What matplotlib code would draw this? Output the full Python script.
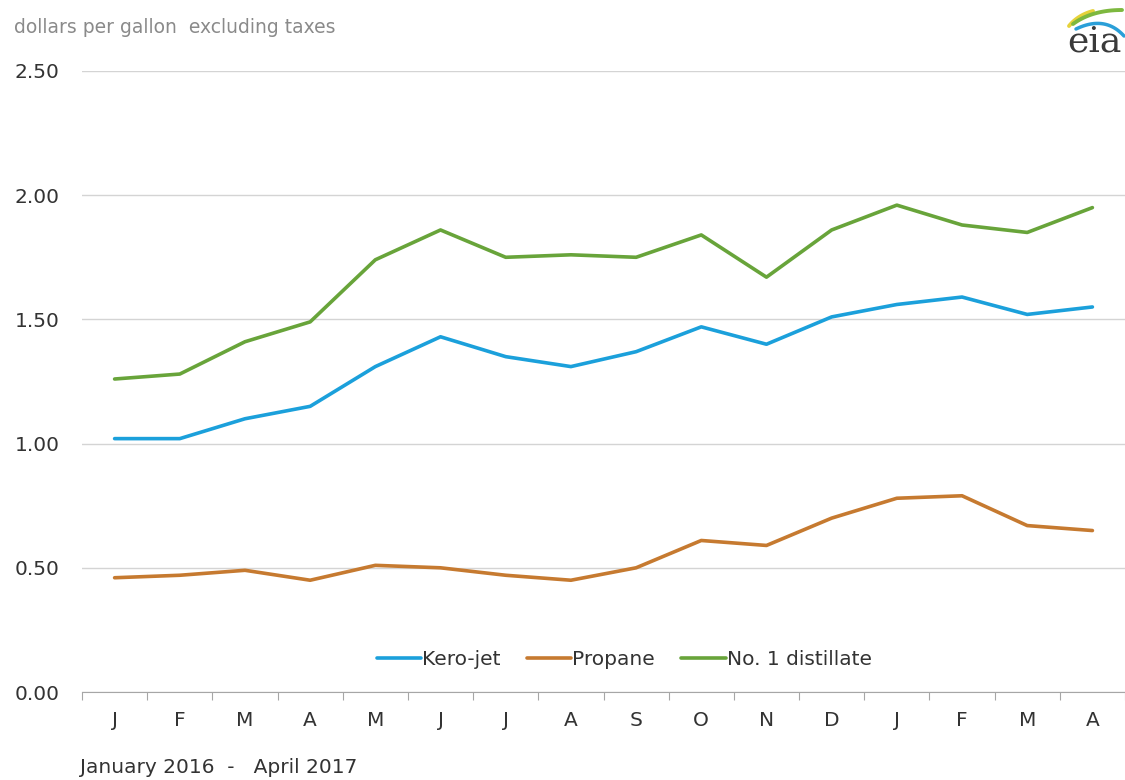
import numpy as np
import matplotlib.pyplot as plt

# =========================================================
# Data (dollars per gallon excluding taxes)
# =========================================================
months = ["J", "F", "M", "A", "M", "J", "J", "A", "S", "O", "N", "D", "J", "F", "M", "A"]
kero_jet = [1.02, 1.02, 1.10, 1.15, 1.31, 1.43, 1.35, 1.31, 1.37, 1.47, 1.40, 1.51, 1.56, 1.59, 1.52, 1.55]
propane = [0.46, 0.47, 0.49, 0.45, 0.51, 0.50, 0.47, 0.45, 0.50, 0.61, 0.59, 0.70, 0.78, 0.79, 0.67, 0.65]
distillate = [1.26, 1.28, 1.41, 1.49, 1.74, 1.86, 1.75, 1.76, 1.75, 1.84, 1.67, 1.86, 1.96, 1.88, 1.85, 1.95]
y_ticks = [0.0, 0.5, 1.0, 1.5, 2.0, 2.5]

BLUE = "#1ba0db"
ORANGE = "#c67a30"
GREEN = "#68a43a"
TEXT = "#333333"
FS = 14.5

plt.rcParams["font.family"] = "DejaVu Sans"

fig = plt.figure(figsize=(11.25, 7.8), dpi=100)
ax = fig.add_axes([0.0729, 0.1128, 0.9271, 0.7962])

x = np.arange(len(months))
ax.plot(x, kero_jet, color=BLUE, lw=2.6, label="Kero-jet", solid_capstyle="round")
ax.plot(x, propane, color=ORANGE, lw=2.6, label="Propane", solid_capstyle="round")
ax.plot(x, distillate, color=GREEN, lw=2.6, label="No. 1 distillate", solid_capstyle="round")

ax.set_xlim(-0.5, len(months) - 0.5)
ax.set_ylim(0, 2.5)
ax.set_yticks(y_ticks)
ax.set_yticklabels([f"{v:.2f}" for v in y_ticks], fontsize=FS, color=TEXT)
ax.tick_params(axis="y", length=0, pad=16)
ax.grid(axis="y", color="#d4d4d4", lw=1)
ax.set_axisbelow(True)

# category ticks on boundaries, labels centered
ax.set_xticks(np.arange(-0.5, len(months), 1.0))
ax.set_xticklabels([])
ax.set_xticks(x, minor=True)
ax.set_xticklabels(months, minor=True, fontsize=FS, color=TEXT)
ax.tick_params(axis="x", which="major", length=6, color="#a6a6a6")
ax.tick_params(axis="x", which="minor", length=0, pad=14)

for s in ["top", "right", "left"]:
    ax.spines[s].set_visible(False)
ax.spines["bottom"].set_color("#a6a6a6")

leg = ax.legend(loc="center", bbox_to_anchor=(0.52, 0.052), ncol=3, frameon=False,
                fontsize=FS, handlelength=2.2, handletextpad=0.05, columnspacing=1.3)
for t in leg.get_texts():
    t.set_color(TEXT)

fig.text(0.0125, 0.965, "dollars per gallon  excluding taxes", fontsize=13.5,
         color="#8a8a8a", ha="left", va="center")
fig.text(0.071, 0.016, "January 2016  -   April 2017", fontsize=FS,
         color=TEXT, ha="left", va="center")

# eia logo (pixel coordinates in a small overlay axes)
lax = fig.add_axes([1025 / 1125, 1 - 70 / 780, 100 / 1125, 70 / 780])
lax.set_xlim(1025, 1125)
lax.set_ylim(70, 0)
lax.axis("off")


def swoosh(p0, p1, p2, color, lw):
    t = np.linspace(0, 1, 40)[:, None]
    pts = (1 - t) ** 2 * np.array(p0) + 2 * (1 - t) * t * np.array(p1) + t ** 2 * np.array(p2)
    lax.plot(pts[:, 0], pts[:, 1], color=color, lw=lw, solid_capstyle="round")


swoosh((1069, 26), (1078, 15), (1093, 11), "#e6d23a", 2.8)
swoosh((1073, 24), (1092, 10), (1122, 10), "#7db83f", 2.8)
swoosh((1076, 29), (1105, 15), (1124, 36), "#2a9fd8", 2.5)
lax.text(1094, 42, "eia", fontsize=26, family="DejaVu Serif", color="#3a3a3a",
         ha="center", va="center")

fig.savefig("out.png", dpi=100)
